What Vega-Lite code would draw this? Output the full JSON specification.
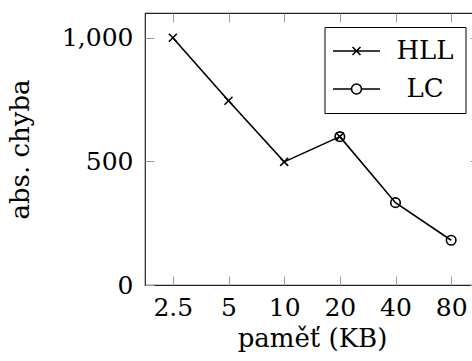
{
  "$schema": "https://vega.github.io/schema/vega-lite/v6.json",
  "width": 334,
  "height": 272,
  "autosize": {"type": "none"},
  "padding": {"left": 145, "top": 13, "right": -7, "bottom": 76},
  "background": "white",
  "config": {
    "font": "DejaVu Serif",
    "view": {"stroke": "#222", "strokeWidth": 1.2},
    "axis": {"domain": false, "grid": false, "tickColor": "#999", "tickWidth": 1, "tickSize": -9,
             "labelFont": "DejaVu Serif", "labelFontSize": 25, "labelColor": "black",
             "titleFont": "DejaVu Serif", "titleFontSize": 26, "titleFontWeight": "normal", "titleColor": "black"}
  },
  "data": {
    "values": [
      {"mem": "2.5", "err": 1000, "series": "HLL"},
      {"mem": "5", "err": 745, "series": "HLL"},
      {"mem": "10", "err": 498, "series": "HLL"},
      {"mem": "20", "err": 600, "series": "HLL"},
      {"mem": "20", "err": 600, "series": "LC"},
      {"mem": "40", "err": 333, "series": "LC"},
      {"mem": "80", "err": 181, "series": "LC"}
    ]
  },
  "layer": [
    {
      "mark": {"type": "line", "color": "black", "strokeWidth": 1.6},
      "encoding": {
        "x": {"field": "mem", "type": "ordinal", "sort": ["2.5", "5", "10", "20", "40", "80"],
              "scale": {"type": "point", "padding": 0.5},
              "axis": {"orient": "bottom", "labelAngle": 0, "labelPadding": 19, "title": "paměť (KB)", "titlePadding": 5}},
        "y": {"field": "err", "type": "quantitative", "scale": {"domain": [0, 1100], "nice": false, "zero": true},
              "axis": {"orient": "left", "values": [0, 500, 1000], "format": ",.0f", "labelPadding": 21, "title": "abs. chyba", "titlePadding": 28}},
        "detail": {"field": "series"}
      }
    },
    {
      "mark": {"type": "point", "filled": false, "stroke": "black", "strokeWidth": 1.6, "opacity": 1},
      "encoding": {
        "x": {"field": "mem", "type": "ordinal", "sort": ["2.5", "5", "10", "20", "40", "80"],
              "axis": {"orient": "top", "labels": false, "title": null}},
        "y": {"field": "err", "type": "quantitative",
              "axis": {"orient": "right", "labels": false, "title": null, "values": [0, 500, 1000]}},
        "shape": {"field": "series", "type": "nominal",
                  "scale": {"domain": ["HLL", "LC"], "range": ["M-1,-1L1,1M-1,1L1,-1", "circle"]},
                  "legend": null},
        "size": {"field": "series", "type": "nominal", "scale": {"domain": ["HLL", "LC"], "range": [64, 90]}, "legend": null}
      }
    },
    {
      "mark": {"type": "point", "filled": false, "opacity": 0},
      "encoding": {
        "x": {"field": "mem", "type": "ordinal", "sort": ["2.5", "5", "10", "20", "40", "80"], "axis": null},
        "y": {"field": "err", "type": "quantitative", "axis": null},
        "shape": {"field": "series2", "type": "nominal",
                  "scale": {"domain": ["HLL", "LC"], "range": [
                    "M-2.35,0L2.35,0M-0.4,-0.4L0.4,0.4M-0.4,0.4L0.4,-0.4",
                    "M-2.35,0L-0.5,0M0.5,0L2.35,0M0.5,0A0.5,0.5 0 1,1 -0.5,0A0.5,0.5 0 1,1 0.5,0"
                  ]},
                  "legend": {"orient": "none", "legendX": 179.5, "legendY": 14, "title": null,
                             "padding": 11, "strokeColor": "black", "fillColor": "white",
                             "symbolStrokeColor": "black", "symbolFillColor": "white", "symbolStrokeWidth": 1.6,
                             "symbolSize": 400, "symbolOffset": 8, "symbolOpacity": 1,
                             "labelAlign": "center", "labelOffset": 55.5, "labelFontSize": 26,
                             "labelFont": "DejaVu Serif", "labelColor": "black", "rowPadding": 12}}
      }
    }
  ],
  "transform": [{"calculate": "datum.series", "as": "series2"}],
  "resolve": {"scale": {"shape": "independent"}, "axis": {"x": "independent", "y": "independent"}}
}
